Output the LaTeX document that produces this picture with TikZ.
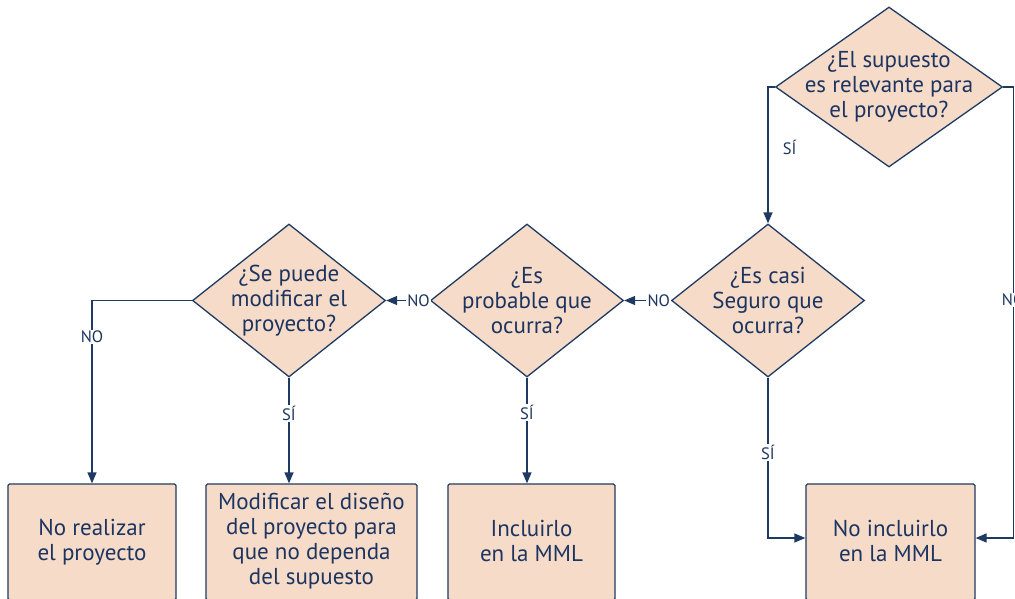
\documentclass[tikz,border=0pt]{standalone}
\usepackage{fontspec}
\setmainfont{PT Sans}
\usetikzlibrary{shapes.geometric,arrows.meta,calc}
\definecolor{fillc}{HTML}{F6DBC9}
\definecolor{linec}{HTML}{1F3A60}
\definecolor{textc}{HTML}{1C3460}
\begin{document}
\begin{tikzpicture}[x=1pt,y=-1pt,
  dia/.style={draw=linec, fill=fillc, line width=1.3pt, shape=diamond, inner sep=0pt},
  txt/.style={text=textc, font=\fontsize{23}{25}\selectfont, align=center, inner sep=0pt},
  lbl/.style={text=textc, font=\fontsize{16.5}{18}\selectfont, fill=white, inner sep=1.2pt},
  box/.style={draw=linec, fill=fillc, line width=1.3pt, rounded corners=1.5pt, minimum height=116pt, inner sep=0pt},
  conn/.style={draw=linec, line width=1.3pt, -{Triangle[length=11pt,width=9pt]}}]
\useasboundingbox (0,0) rectangle (1015,599);
\clip (0,0) rectangle (1015,599);
% diamonds
\node[dia, minimum width=227pt, minimum height=160pt] (d1) at (889,87) {};
\node[dia, minimum width=193pt, minimum height=153pt] (d2) at (768,300.5) {};
\node[dia, minimum width=193pt, minimum height=153pt] (d3) at (527,300.5) {};
\node[dia, minimum width=193pt, minimum height=153pt] (d4) at (289,300.5) {};
\node[txt] (t1) at (d1) {¿El supuesto\\es relevante para\\el proyecto?};
\node[txt] (t2) at (d2) {¿Es casi\\Seguro que\\ocurra?};
\node[txt] (t3) at (d3) {¿Es\\probable que\\ocurra?};
\node[txt] (t4) at (d4) {¿Se puede\\modificar el\\proyecto?};
% boxes
\node[box, minimum width=168pt] (b1) at (92,542) {};
\node[box, minimum width=211pt] (b2) at (311.5,542) {};
\node[box, minimum width=167pt] (b3) at (531.5,542) {};
\node[box, minimum width=169pt] (b4) at (890.5,542) {};
\node[txt] (s1) at (b1) {No realizar\\el proyecto};
\node[txt] (s2) at ([yshift=1pt]b2.center) {Modificar el diseño\\del proyecto para\\que no dependa\\del supuesto};
\node[txt] (s3) at ([yshift=1pt]b3.center) {Incluirlo\\en la MML};
\node[txt] (s4) at ([yshift=1pt]b4.center) {No incluirlo\\en la MML};
% connectors
\draw[conn] (d1.west) -| node[lbl, pos=0.72, anchor=west, xshift=13pt, fill=none]{SÍ} (d2.north);
\draw[conn] (d1.east) -- ++(10,0) |- node[lbl,pos=0.236]{NO} ([yshift=4pt]b4.east);
\draw[conn] (d2.west) -- node[lbl,pos=0.26]{NO} (d3.east);
\draw[conn] (d3.west) -- node[lbl,pos=0.26]{NO} (d4.east);
\draw[conn] (d4.west) -| node[lbl,pos=0.6]{NO} (b1.north);
\draw[conn] (d4.south) -- node[lbl,pos=0.34]{SÍ} (d4.south |- b2.north);
\draw[conn] (d3.south) -- node[lbl,pos=0.33]{SÍ} (d3.south |- b3.north);
\draw[conn] (d2.south) |- node[lbl,pos=0.233]{SÍ} ([yshift=4pt]b4.west);
\end{tikzpicture}
\end{document}
